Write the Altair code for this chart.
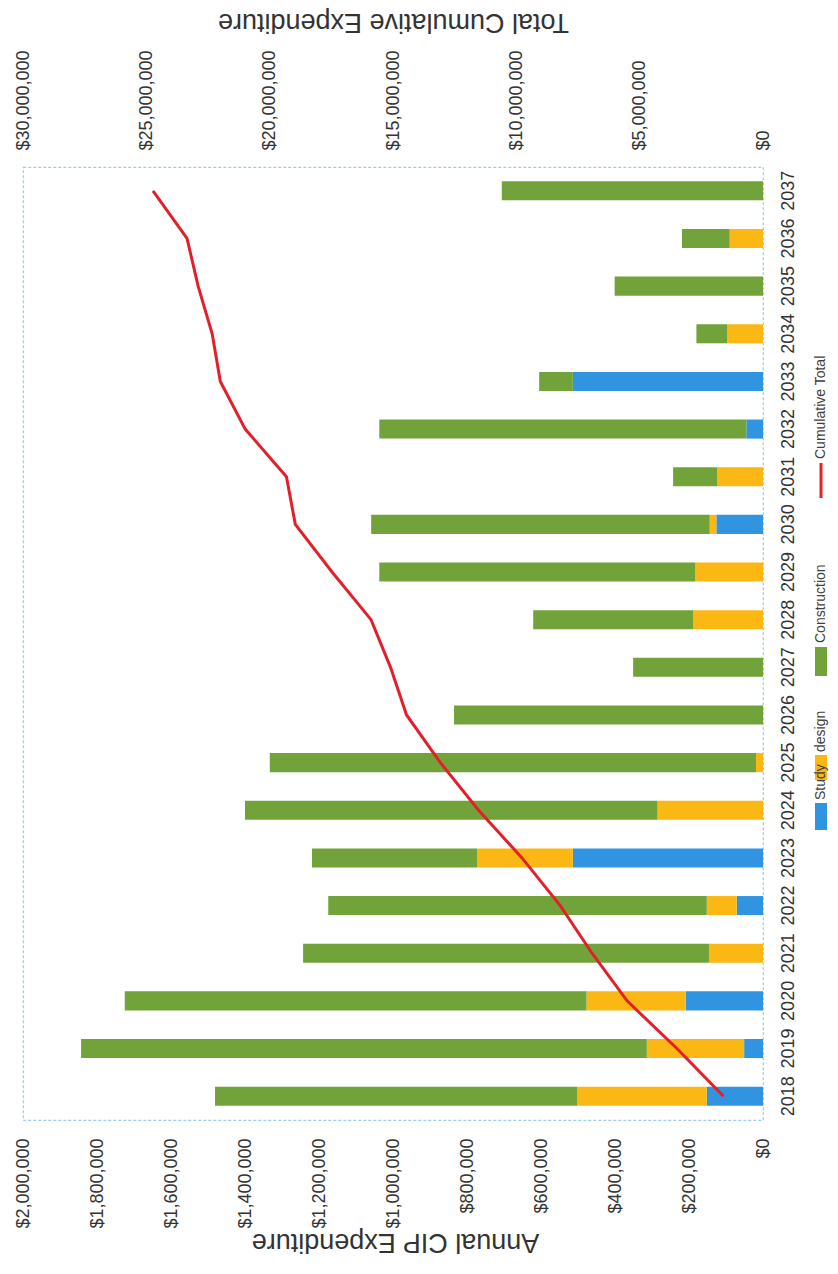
import altair as alt
import pandas as pd

years = list(range(2018, 2038))
study = [152000, 51000, 209000, 0, 71000, 514000, 0, 0, 0, 0,
         0, 0, 126000, 0, 45000, 514000, 0, 0, 0, 0]
design = [350000, 263000, 268000, 146000, 81000, 259000, 285000, 19000, 0, 0,
          189000, 183000, 18000, 124000, 0, 0, 97000, 0, 90000, 0]
construction = [979000, 1529000, 1248000, 1097000, 1023000, 446000, 1115000, 1314000, 835000, 351000,
                432000, 854000, 915000, 119000, 992000, 91000, 83000, 401000, 129000, 706000]
cumulative = [1600000, 3490000, 5510000, 6930000, 8220000, 9770000, 11530000, 13080000, 14450000, 15100000,
              15890000, 17470000, 18960000, 19320000, 20990000, 22000000, 22330000, 22900000, 23350000, 24730000]

categories = ["Study", "design", "Construction"]
colors = ["#3094E0", "#FBB714", "#72A33A"]
line_color = "#E3202A"
annual_ticks = list(range(0, 2000001, 200000))
cumulative_ticks = list(range(0, 30000001, 5000000))

rows = []
for i, yr in enumerate(years):
    for k, (cat, vals) in enumerate(zip(categories, [study, design, construction])):
        rows.append({"Year": str(yr), "Category": cat, "Amount": vals[i], "ord": k})
bars_df = pd.DataFrame(rows)
line_df = pd.DataFrame({"Year": [str(y) for y in years], "Cumulative": cumulative,
                        "idx": list(range(len(years)))})

FONT = "Liberation Sans"
TXT = "#333333"

yscale = alt.Scale(domain=[str(y) for y in reversed(years)], paddingInner=0.6, paddingOuter=0.3)
yaxis = alt.Axis(orient="right", labelAngle=270, labelAlign="center", labelBaseline="top",
                 labelPadding=16, ticks=False, domain=False, grid=False, title=None,
                 labelFontSize=18, labelOverlap=False)

bars = alt.Chart(bars_df).mark_bar().encode(
    y=alt.Y("Year:N", scale=yscale, axis=yaxis),
    x=alt.X("Amount:Q", stack="zero",
            scale=alt.Scale(domain=[0, 2000000], reverse=True, nice=False),
            axis=alt.Axis(orient="bottom", values=annual_ticks, format="$,.0f",
                          labelAngle=270, labelAlign="right", labelBaseline="middle",
                          labelPadding=18, ticks=False, domain=False, grid=False,
                          labelFlush=False, labelOverlap=False, labelFontSize=18,
                          title="Annual CIP Expenditure", titleAngle=180,
                          titleX=372, titleY=121, titleAlign="center", titleBaseline="middle",
                          titleFontSize=27, titleFontWeight="normal")),
    color=alt.Color("Category:N", scale=alt.Scale(domain=categories, range=colors), legend=None),
    order=alt.Order("ord:Q", sort="ascending"),
)

line = alt.Chart(line_df).mark_line(color=line_color, strokeWidth=3).encode(
    y=alt.Y("Year:N", scale=yscale, axis=yaxis),
    x=alt.X("Cumulative:Q",
            scale=alt.Scale(domain=[0, 30000000], reverse=True, nice=False),
            axis=alt.Axis(orient="top", values=cumulative_ticks, format="$,.0f",
                          labelAngle=270, labelAlign="left", labelBaseline="middle",
                          labelPadding=17, ticks=False, domain=False, grid=False,
                          labelFlush=False, labelOverlap=False, labelFontSize=18,
                          title="Total Cumulative Expenditure", titleAngle=180,
                          titleX=370, titleY=-146, titleAlign="center", titleBaseline="middle",
                          titleFontSize=27, titleFontWeight="normal")),
    order=alt.Order("idx:Q"),
)

one = pd.DataFrame({"k": [0]})
legend_layers = []
key_x0, key_x1, text_x = 792, 804, 798
for color, (y0, y1) in zip(colors, [(636, 663), (588, 613), (480, 509)]):
    legend_layers.append(
        alt.Chart(one).mark_rect(color=color).encode(
            x=alt.value(key_x0), x2=alt.value(key_x1), y=alt.value(y0), y2=alt.value(y1)))
legend_layers.append(
    alt.Chart(one).mark_rule(color=line_color, strokeWidth=3).encode(
        x=alt.value(text_x), y=alt.value(296), y2=alt.value(331)))
for label, ystart in zip(["Study", "design", "Construction", "Cumulative Total"], [633, 585, 476, 292]):
    legend_layers.append(
        alt.Chart(one).mark_text(angle=270, align="left", baseline="middle", fontSize=14,
                                 font=FONT, color="#404040").encode(
            x=alt.value(text_x), y=alt.value(ystart), text=alt.value(label)))

chart = alt.layer(bars, line, *legend_layers).resolve_scale(x="independent").properties(
    width=740, height=953,
    padding={"left": 15, "top": 159, "right": 67, "bottom": 138},
    autosize=alt.AutoSizeParams(type="none"),
    background="white",
).configure_view(
    stroke="#9CCFE3", strokeDash=[3, 2], strokeWidth=1.2
).configure_axis(
    labelFont=FONT, titleFont=FONT, labelColor=TXT, titleColor=TXT
)

chart.save("out.html", embed_options={"renderer": "svg", "actions": False})
